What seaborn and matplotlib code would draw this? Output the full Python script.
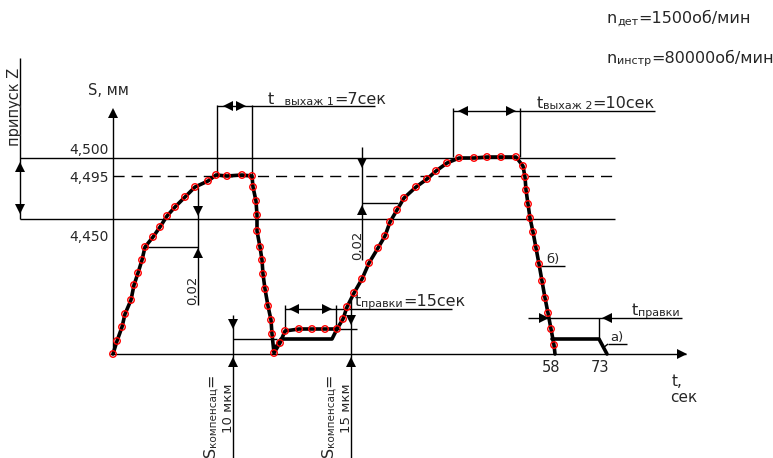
import matplotlib
matplotlib.use("Agg")
import matplotlib.pyplot as plt
import seaborn as sns

sns.set_style("white")
plt.rcParams['font.family'] = ['DejaVu Sans']

# ---------------- data (drawing units, y grows downward) ----------------
curve_x = [113, 117, 122, 125, 131, 134, 138, 142, 145, 153, 160, 167, 175, 185, 195, 208, 216,
           227, 242, 252, 253, 256, 257, 257, 260, 262, 263, 265, 268, 271, 272, 274,
           280, 285, 299, 312, 325, 337, 343, 347, 354, 362, 369, 378, 385, 390, 397, 404,
           416, 427, 436, 447, 459, 474, 487, 501, 516, 523, 525, 526, 528, 530, 533, 536,
           539, 542, 545, 548, 551, 554, 555]
curve_y = [354, 341, 327, 314, 300, 285, 273, 260, 247, 237, 227, 216, 207, 197, 187, 181, 175,
           176, 175, 176, 187, 201, 215, 231, 247, 260, 274, 289, 306, 320, 334, 353,
           343, 331, 329, 329, 329, 329, 319, 307, 293, 279, 263, 248, 236, 222, 210, 198,
           187, 179, 171, 163, 158, 158, 157, 157, 157, 166, 177, 190, 204, 218, 232, 248,
           264, 281, 298, 313, 329, 345, 354]
dip_branch_x = [276, 281, 332, 337]
dip_branch_y = [347, 339, 339, 329]
branch_a_x = [552, 599, 607]
branch_a_y = [339, 339, 354]

level_labels = ["4,500", "4,495", "4,450"]
level_label_y = [154, 182, 241]

tick_labels = ["58", "73"]
tick_x = [551, 600]

# thin construction lines: (x0, y0, x1, y1)
thin_lines = [
    (110, 354, 686, 354), (113, 354, 113, 110),
    (20, 158, 615, 158), (20, 219, 615, 219), (20, 58, 20, 219),
    (217, 105, 217, 175), (252, 105, 252, 176), (217, 106, 375, 106),
    (453, 108, 453, 157), (520, 108, 520, 157), (453, 111, 655, 111),
    (198, 187, 198, 305), (145, 247, 198, 247),
    (362, 147, 362, 260), (362, 203, 398, 203),
    (285, 305, 285, 329), (336, 305, 336, 329), (285, 309, 452, 309),
    (233, 315, 233, 458), (233, 339, 277, 339),
    (351, 300, 351, 458), (337, 329, 357, 329),
    (528, 318, 682, 318), (599, 318, 599, 339),
    (541, 266, 565, 266), (603, 348, 608, 344), (608, 344, 627, 344),
]
dashed_line = (113, 176, 615, 176)

# arrow heads: (x, y, marker)
arrows = [
    (113, 113, '^'), (682, 354, '>'),
    (20, 167, '^'), (20, 209, 'v'),
    (198, 211, 'v'), (198, 253, '^'),
    (362, 163, 'v'), (362, 210, '^'),
    (228, 106, '<'), (241, 106, '>'),
    (463, 111, '<'), (511, 111, '>'),
    (294, 309, '<'), (327, 309, '>'),
    (544, 318, '>'), (607, 318, '<'),
    (233, 324, 'v'), (233, 362, '^'),
    (351, 320, 'v'), (351, 362, '^'),
]

# ---------------- figure ----------------
W, H = 773, 458
fig = plt.figure(figsize=(W / 100, H / 100), dpi=100)
ax = fig.add_axes([0, 0, 1, 1])
ax.set_xlim(0, W)
ax.set_ylim(H, 0)
ax.axis('off')
fig.patch.set_facecolor('white')

for x0, y0, x1, y1 in thin_lines:
    ax.plot([x0, x1], [y0, y1], color='black', lw=1.0, solid_capstyle='butt')
x0, y0, x1, y1 = dashed_line
ax.plot([x0, x1], [y0, y1], color='black', lw=1.0, dashes=(8, 5))

for x, y, m in arrows:
    ax.plot([x], [y], marker=m, color='black', ms=6.5, mew=0, linestyle='none')

# thick curves
sns.lineplot(x=curve_x, y=curve_y, sort=False, estimator=None, color='black', lw=2.6, ax=ax)
sns.lineplot(x=dip_branch_x, y=dip_branch_y, sort=False, estimator=None, color='black', lw=2.6, ax=ax)
sns.lineplot(x=branch_a_x, y=branch_a_y, sort=False, estimator=None, color='black', lw=2.6, ax=ax)
sns.scatterplot(x=curve_x[:-1], y=curve_y[:-1], marker='o', s=22, fc='none', ec='red',
                linewidth=1.0, ax=ax, zorder=5)

# ---------------- text ----------------
renderer = fig.canvas.get_renderer()


def rich_text(x, y, pieces, rotation=0):
    pos = 0.0
    for s, fs, dy in pieces:
        if rotation == 0:
            t = ax.text(x + pos, y + dy, s, fontsize=fs, ha='left', va='baseline')
            pos += t.get_window_extent(renderer).width
        else:
            t = ax.text(x + dy, y - pos, s, fontsize=fs, ha='left', va='baseline',
                        rotation=90, rotation_mode='anchor')
            pos += t.get_window_extent(renderer).height


BIG, SMALL = 11.5, 8

for lab, yy in zip(level_labels, level_label_y):
    ax.text(109, yy, lab, fontsize=10, ha='right', va='baseline')

ax.text(88, 95, "S, мм", fontsize=10.5, ha='left', va='baseline')

rich_text(607, 23, [("n", BIG, 0), ("дет", SMALL, 1.5), ("=1500об/мин", BIG, 0)])
rich_text(607, 63, [("n", BIG, 0), ("инстр", SMALL, 1.5), ("=80000об/мин", BIG, 0)])
rich_text(268, 104, [("t", BIG, 0), ("   выхаж 1", SMALL, 1), ("=7сек", BIG, 0)])
rich_text(537, 108, [("t", BIG, 0), ("выхаж 2", SMALL, 1), ("=10сек", BIG, 0)])
rich_text(355, 306, [("t", BIG, 0), ("правки", SMALL, 1), ("=15сек", BIG, 0)])
rich_text(632, 315, [("t", BIG, 0), ("правки", SMALL, 1)])

ax.text(546, 263, "б)", fontsize=9.5, ha='left', va='baseline')
ax.text(610, 341, "a)", fontsize=9.5, ha='left', va='baseline')

for lab, xx in zip(tick_labels, tick_x):
    ax.text(xx, 372, lab, fontsize=10.5, ha='center', va='baseline')

ax.text(672, 386, "t,", fontsize=11, ha='left', va='baseline')
ax.text(670, 402, "сек", fontsize=11, ha='left', va='baseline')

rich_text(19, 146, [("припуск Z", 10.5, 0)], rotation=90)
rich_text(196, 305, [("0,02", 9.5, 0)], rotation=90)
rich_text(361, 260, [("0,02", 9.5, 0)], rotation=90)
rich_text(215, 457, [("S", BIG, 0), ("компенсац", SMALL - 0.5, 1), ("=", BIG, 0)], rotation=90)
rich_text(232, 433, [("10 мкм", 9.5, 0)], rotation=90)
rich_text(333, 457, [("S", BIG, 0), ("компенсац", SMALL - 0.5, 1), ("=", BIG, 0)], rotation=90)
rich_text(350, 433, [("15 мкм", 9.5, 0)], rotation=90)

fig.savefig("out.png", dpi=100, facecolor='white')
